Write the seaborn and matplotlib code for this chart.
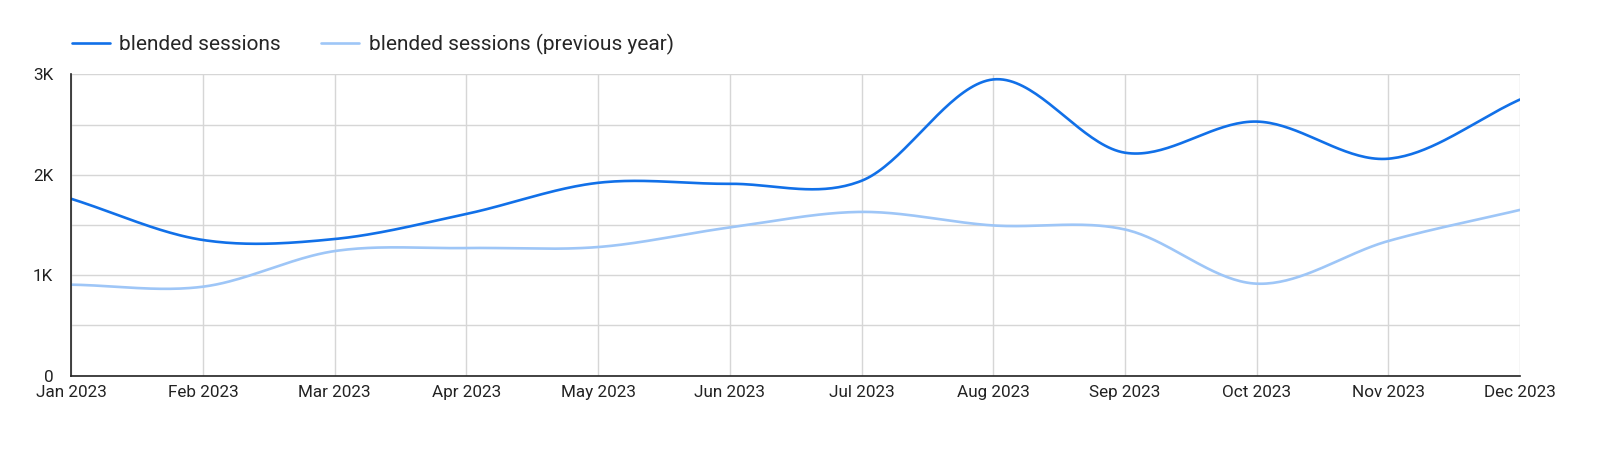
import matplotlib
matplotlib.use("Agg")
import matplotlib.pyplot as plt
import numpy as np
import pandas as pd
import seaborn as sns
from matplotlib.ticker import FixedLocator, MultipleLocator

months = ["Jan 2023", "Feb 2023", "Mar 2023", "Apr 2023", "May 2023", "Jun 2023",
          "Jul 2023", "Aug 2023", "Sep 2023", "Oct 2023", "Nov 2023", "Dec 2023"]
sessions = [1760, 1350, 1360, 1610, 1920, 1910, 1940, 2950, 2220, 2530, 2160, 2750]
sessions_prev = [905, 885, 1240, 1270, 1280, 1475, 1630, 1495, 1455, 915, 1340, 1650]
y_ticks = [0, 1000, 2000, 3000]
y_tick_labels = ["0", "1K", "2K", "3K"]

MAIN_COLOR = "#1170e8"
PREV_COLOR = "#9ec6f7"
GRID_COLOR = "#d6d6d6"


def smooth(values, steps=40):
    """Catmull-Rom curve through the points, used only to draw the line smoothly."""
    y = np.asarray(values, dtype=float)
    x = np.arange(len(y), dtype=float)
    yp = np.concatenate([[2 * y[0] - y[1]], y, [2 * y[-1] - y[-2]]])
    xs, ys = [], []
    for i in range(len(y) - 1):
        p0, p1, p2, p3 = yp[i], yp[i + 1], yp[i + 2], yp[i + 3]
        t = np.linspace(0, 1, steps, endpoint=False)
        seg = 0.5 * ((2 * p1) + (-p0 + p2) * t + (2 * p0 - 5 * p1 + 4 * p2 - p3) * t ** 2
                     + (-p0 + 3 * p1 - 3 * p2 + p3) * t ** 3)
        xs.append(x[i] + t)
        ys.append(seg)
    xs.append([x[-1]])
    ys.append([y[-1]])
    return np.concatenate(xs), np.concatenate(ys)


sns.set_theme(style="white")
plt.rcParams["font.family"] = ["Roboto", "DejaVu Sans"]

frames = []
for label, vals in [("blended sessions", sessions), ("blended sessions (previous year)", sessions_prev)]:
    sx, sy = smooth(vals)
    frames.append(pd.DataFrame({"x": sx, "y": sy, "series": label}))
df = pd.concat(frames, ignore_index=True)

fig = plt.figure(figsize=(16, 4.51), dpi=100)
ax = fig.add_axes([0.0446, 0.1674, 0.9054, 0.6676])

sns.lineplot(data=df, x="x", y="y", hue="series",
             palette=[MAIN_COLOR, PREV_COLOR], linewidth=1.9, ax=ax, legend=True,
             sort=False, estimator=None)

ax.set_xlim(0, len(months) - 1)
ax.set_ylim(0, 3000)
ax.set_xticks(range(len(months)))
ax.set_xticklabels(months, fontsize=12.3, color="#222222")
ax.yaxis.set_major_locator(FixedLocator(y_ticks))
ax.set_yticklabels(y_tick_labels, fontsize=12.3, color="#222222")
ax.yaxis.set_minor_locator(MultipleLocator(500))
ax.grid(True, which="both", axis="y", color=GRID_COLOR, linewidth=1)
ax.grid(True, which="major", axis="x", color=GRID_COLOR, linewidth=1)
ax.tick_params(axis="both", which="both", length=0)
ax.tick_params(axis="y", pad=13)
ax.tick_params(axis="x", pad=7)
ax.set_xlabel("")
ax.set_ylabel("")
ax.set_axisbelow(True)

for side in ["top", "right"]:
    ax.spines[side].set_visible(False)
ax.spines["left"].set_color("#222222")
ax.spines["bottom"].set_color("#222222")
ax.spines["left"].set_linewidth(1.2)
ax.spines["bottom"].set_linewidth(1.2)

handles, labels = ax.get_legend_handles_labels()
ax.get_legend().remove()
fig.legend(handles, labels, loc="center left", bbox_to_anchor=(0.033, 0.902),
           ncol=2, frameon=False, fontsize=15, handlelength=1.85,
           handletextpad=0.45, columnspacing=1.9)

fig.savefig("out.png", dpi=100)
